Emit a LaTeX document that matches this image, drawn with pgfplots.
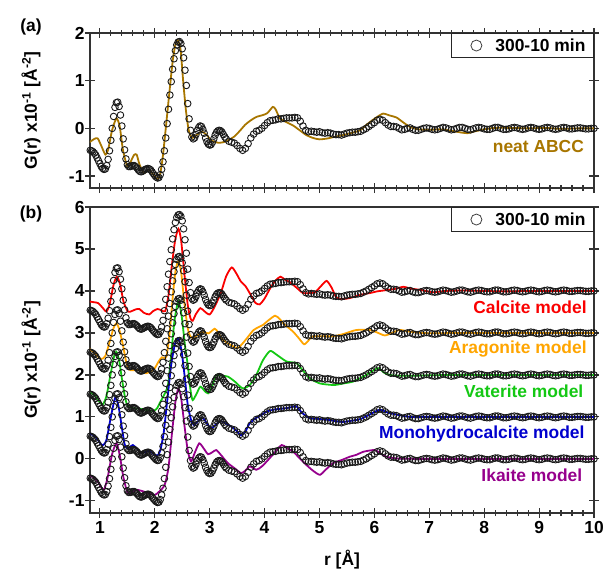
\documentclass[border=0pt]{standalone}
\usepackage{pgfplots}
\pgfplotsset{compat=1.18}
\usepackage{pgfplotstable}
\usepackage{fontspec}
\setmainfont{Liberation Sans}

\definecolor{abcc}{RGB}{168,118,0}
\definecolor{calc}{RGB}{250,0,0}
\definecolor{arag}{RGB}{255,165,0}
\definecolor{vate}{RGB}{20,200,20}
\definecolor{mono}{RGB}{0,0,205}
\definecolor{ikai}{RGB}{150,0,140}

\newcommand{\lbl}{\fontsize{17.5}{20}\selectfont\bfseries}

% measured G(r), 300-10 min
\pgfplotstableread[row sep=\\]{
x y\\
0.800 -0.45\\ 0.825 -0.46\\ 0.850 -0.47\\ 0.875 -0.49\\ 0.900 -0.52\\ 0.925 -0.56\\ 0.950 -0.62\\ 0.975 -0.68\\
1.000 -0.74\\ 1.025 -0.80\\ 1.050 -0.84\\ 1.075 -0.86\\ 1.100 -0.85\\ 1.125 -0.78\\ 1.150 -0.65\\ 1.175 -0.47\\
1.200 -0.25\\ 1.225 0.00\\ 1.250 0.25\\ 1.275 0.44\\ 1.300 0.54\\ 1.325 0.55\\ 1.350 0.46\\ 1.375 0.28\\
1.400 0.05\\ 1.425 -0.22\\ 1.450 -0.45\\ 1.475 -0.64\\ 1.500 -0.76\\ 1.525 -0.80\\ 1.550 -0.80\\ 1.575 -0.79\\
1.600 -0.78\\ 1.625 -0.78\\ 1.650 -0.80\\ 1.675 -0.83\\ 1.700 -0.87\\ 1.725 -0.90\\ 1.750 -0.91\\ 1.775 -0.90\\
1.800 -0.88\\ 1.825 -0.86\\ 1.850 -0.85\\ 1.875 -0.84\\ 1.900 -0.85\\ 1.925 -0.87\\ 1.950 -0.91\\ 1.975 -0.95\\
2.000 -0.99\\ 2.025 -1.02\\ 2.050 -1.04\\ 2.075 -1.03\\ 2.100 -0.97\\ 2.125 -0.86\\ 2.150 -0.70\\ 2.175 -0.47\\
2.200 -0.20\\ 2.225 0.10\\ 2.250 0.40\\ 2.275 0.70\\ 2.300 0.98\\ 2.325 1.24\\ 2.350 1.46\\ 2.375 1.63\\
2.400 1.75\\ 2.425 1.81\\ 2.450 1.82\\ 2.475 1.78\\ 2.500 1.67\\ 2.525 1.48\\ 2.550 1.22\\ 2.575 0.90\\
2.600 0.52\\ 2.625 0.20\\ 2.650 -0.04\\ 2.675 -0.18\\ 2.700 -0.22\\ 2.725 -0.20\\ 2.750 -0.13\\ 2.775 -0.04\\
2.800 0.02\\ 2.825 0.05\\ 2.850 0.04\\ 2.875 -0.02\\ 2.900 -0.10\\ 2.925 -0.20\\ 2.950 -0.28\\ 2.975 -0.33\\
3.000 -0.35\\ 3.025 -0.34\\ 3.050 -0.29\\ 3.075 -0.22\\ 3.100 -0.14\\ 3.125 -0.08\\ 3.150 -0.05\\ 3.175 -0.04\\
3.200 -0.05\\ 3.225 -0.08\\ 3.250 -0.13\\ 3.275 -0.18\\ 3.300 -0.22\\
3.35 -0.27\\ 3.40 -0.29\\ 3.45 -0.31\\ 3.50 -0.36\\ 3.55 -0.42\\
3.60 -0.46\\ 3.65 -0.42\\ 3.70 -0.32\\ 3.75 -0.20\\ 3.80 -0.12\\ 3.85 -0.06\\ 3.90 -0.04\\ 3.95 0.00\\
4.00 0.06\\ 4.05 0.12\\ 4.10 0.16\\ 4.15 0.17\\ 4.20 0.18\\ 4.25 0.20\\ 4.30 0.20\\ 4.35 0.21\\
4.40 0.22\\ 4.45 0.22\\ 4.50 0.22\\ 4.55 0.23\\ 4.60 0.22\\ 4.65 0.15\\ 4.70 0.05\\ 4.75 -0.04\\
4.80 -0.07\\ 4.85 -0.06\\ 4.90 -0.07\\ 4.95 -0.08\\ 5.00 -0.07\\ 5.05 -0.09\\ 5.10 -0.10\\ 5.15 -0.09\\
5.20 -0.10\\ 5.25 -0.12\\ 5.30 -0.13\\ 5.35 -0.13\\ 5.40 -0.14\\ 5.45 -0.12\\ 5.50 -0.10\\ 5.55 -0.09\\
5.60 -0.08\\ 5.65 -0.08\\ 5.70 -0.07\\ 5.75 -0.06\\ 5.80 -0.03\\ 5.85 0.00\\ 5.90 0.04\\ 5.95 0.08\\
6.00 0.12\\ 6.05 0.17\\ 6.10 0.19\\ 6.15 0.17\\ 6.20 0.12\\ 6.25 0.07\\ 6.30 0.04\\ 6.35 0.04\\
6.40 0.03\\ 6.45 0.00\\ 6.50 -0.03\\ 6.55 -0.02\\ 6.60 0.00\\ 6.65 0.01\\ 6.70 -0.02\\ 6.75 -0.04\\
6.80 -0.04\\ 6.85 -0.02\\ 6.90 0.00\\ 6.95 0.01\\ 7.00 0.00\\ 7.05 -0.02\\ 7.10 -0.03\\ 7.15 -0.02\\
7.20 0.00\\ 7.25 0.02\\ 7.30 0.01\\ 7.35 -0.01\\ 7.40 -0.03\\ 7.45 -0.02\\ 7.50 0.00\\ 7.55 0.02\\
7.60 0.02\\ 7.65 0.00\\ 7.70 -0.02\\ 7.75 -0.03\\ 7.80 -0.01\\ 7.85 0.01\\ 7.90 0.02\\ 7.95 0.01\\
8.00 -0.01\\ 8.05 -0.02\\ 8.10 -0.02\\ 8.15 0.00\\ 8.20 0.02\\ 8.25 0.02\\ 8.30 0.00\\ 8.35 -0.02\\
8.40 -0.02\\ 8.45 -0.01\\ 8.50 0.01\\ 8.55 0.02\\ 8.60 0.01\\ 8.65 -0.01\\ 8.70 -0.02\\ 8.75 -0.01\\
8.80 0.01\\ 8.85 0.02\\ 8.90 0.01\\ 8.95 -0.01\\ 9.00 -0.02\\ 9.05 -0.01\\ 9.10 0.01\\ 9.15 0.02\\
9.20 0.01\\ 9.25 -0.01\\ 9.30 -0.02\\ 9.35 -0.01\\ 9.40 0.01\\ 9.45 0.02\\ 9.50 0.01\\ 9.55 -0.01\\
9.60 -0.01\\ 9.65 0.00\\ 9.70 0.01\\ 9.75 0.01\\ 9.80 0.00\\ 9.85 -0.01\\ 9.90 -0.01\\ 9.95 0.00\\
10.00 0.00\\
}\expdata

% neat ABCC
\pgfplotstableread[row sep=\\]{
x y\\
0.80 -0.30\\ 0.90 -0.22\\ 0.96 -0.21\\ 1.02 -0.35\\ 1.10 -0.55\\ 1.15 -0.45\\ 1.22 -0.05\\ 1.30 0.21\\
1.36 0.05\\ 1.42 -0.45\\ 1.50 -0.80\\ 1.56 -0.70\\ 1.62 -0.56\\ 1.67 -0.55\\ 1.72 -0.75\\ 1.80 -0.94\\
1.85 -0.90\\ 1.90 -0.86\\ 1.96 -0.95\\ 2.05 -1.07\\ 2.10 -0.95\\ 2.15 -0.55\\ 2.20 0.00\\ 2.27 0.80\\
2.33 1.45\\ 2.38 1.78\\ 2.42 1.85\\ 2.47 1.65\\ 2.52 0.95\\ 2.57 0.35\\ 2.62 -0.05\\ 2.68 -0.20\\
2.75 -0.15\\ 2.85 -0.07\\ 2.93 -0.12\\ 3.03 -0.25\\ 3.15 -0.30\\ 3.25 -0.29\\ 3.35 -0.24\\ 3.45 -0.17\\
3.55 -0.05\\ 3.65 0.08\\ 3.75 0.17\\ 3.85 0.24\\ 3.97 0.28\\ 4.05 0.32\\ 4.15 0.45\\ 4.20 0.40\\
4.28 0.21\\ 4.40 0.13\\ 4.52 0.06\\ 4.64 -0.04\\ 4.76 -0.14\\ 4.88 -0.20\\ 5.00 -0.23\\ 5.15 -0.21\\
5.30 -0.17\\ 5.43 -0.14\\ 5.60 -0.09\\ 5.74 -0.04\\ 5.85 0.07\\ 5.95 0.16\\ 6.05 0.24\\ 6.16 0.31\\
6.28 0.27\\ 6.40 0.23\\ 6.52 0.13\\ 6.65 0.03\\ 6.80 -0.02\\ 7.00 -0.03\\ 7.20 -0.02\\ 7.40 -0.05\\
7.60 -0.09\\ 7.70 -0.10\\ 7.80 -0.07\\ 8.00 -0.02\\ 8.20 0.01\\ 8.50 0.01\\ 8.80 0.00\\ 9.10 0.01\\
9.40 -0.01\\ 9.70 0.00\\ 10.00 0.00\\
}\abccdata

% calcite model (offset +4)
\pgfplotstableread[row sep=\\]{
x y\\
0.80 3.75\\ 0.90 3.73\\ 0.97 3.71\\ 1.05 3.60\\ 1.12 3.51\\ 1.18 3.70\\ 1.25 4.15\\ 1.31 4.34\\
1.37 4.15\\ 1.43 3.75\\ 1.51 3.51\\ 1.58 3.52\\ 1.65 3.56\\ 1.72 3.57\\ 1.80 3.48\\ 1.90 3.44\\
1.97 3.52\\ 2.05 3.57\\ 2.12 3.54\\ 2.19 3.52\\ 2.25 3.90\\ 2.31 4.60\\ 2.37 5.20\\ 2.43 5.48\\
2.48 5.20\\ 2.54 4.40\\ 2.60 3.67\\ 2.65 3.35\\ 2.69 3.29\\ 2.75 3.45\\ 2.83 3.59\\ 2.90 3.52\\
3.00 3.44\\ 3.10 3.65\\ 3.21 3.98\\ 3.30 4.35\\ 3.40 4.56\\ 3.48 4.43\\ 3.57 4.22\\ 3.65 4.12\\
3.75 3.90\\ 3.83 3.72\\ 3.91 3.68\\ 4.00 3.82\\ 4.10 4.06\\ 4.20 4.25\\ 4.29 4.34\\ 4.37 4.27\\
4.46 4.21\\ 4.58 4.08\\ 4.70 3.95\\ 4.82 3.95\\ 4.92 3.97\\ 5.03 4.12\\ 5.13 4.24\\ 5.22 4.08\\
5.31 3.84\\ 5.43 3.81\\ 5.55 3.83\\ 5.70 3.89\\ 5.82 3.93\\ 5.92 3.95\\ 6.05 3.99\\ 6.22 4.02\\
6.38 4.05\\ 6.53 4.10\\ 6.65 4.06\\ 6.86 4.02\\ 7.07 3.97\\ 7.30 4.00\\ 7.60 4.01\\ 8.00 4.00\\
8.40 3.99\\ 8.80 4.00\\ 9.20 4.00\\ 9.60 4.00\\ 10.00 4.00\\
}\calcdata

% aragonite model (offset +3)
\pgfplotstableread[row sep=\\]{
x y\\
0.80 2.64\\ 0.90 2.52\\ 1.02 2.38\\ 1.10 2.45\\ 1.18 2.80\\ 1.25 3.12\\ 1.30 3.23\\ 1.35 3.10\\
1.42 2.71\\ 1.48 2.30\\ 1.53 2.13\\ 1.60 2.11\\ 1.70 2.12\\ 1.78 2.07\\ 1.84 2.04\\ 1.92 2.08\\
2.00 2.16\\ 2.07 2.32\\ 2.13 2.42\\ 2.21 2.43\\ 2.27 3.00\\ 2.33 3.90\\ 2.38 4.50\\ 2.43 4.71\\
2.48 4.45\\ 2.54 3.70\\ 2.60 3.11\\ 2.65 2.92\\ 2.71 2.87\\ 2.79 2.97\\ 2.88 3.02\\ 2.98 2.99\\
3.09 3.10\\ 3.15 3.02\\ 3.21 2.87\\ 3.30 2.78\\ 3.40 2.70\\ 3.51 2.64\\ 3.60 2.75\\ 3.70 2.91\\
3.80 3.07\\ 3.91 3.15\\ 3.97 3.19\\ 4.07 3.30\\ 4.19 3.41\\ 4.27 3.34\\ 4.34 3.23\\ 4.43 3.13\\
4.52 3.03\\ 4.62 2.88\\ 4.72 2.73\\ 4.80 2.82\\ 4.86 2.91\\ 5.00 2.92\\ 5.25 2.92\\ 5.45 2.98\\
5.67 3.07\\ 5.92 3.07\\ 6.05 3.01\\ 6.19 2.94\\ 6.32 3.00\\ 6.46 3.07\\ 6.65 3.03\\ 6.86 3.00\\
7.10 2.99\\ 7.50 3.00\\ 8.00 3.00\\ 8.50 3.00\\ 9.00 3.00\\ 9.50 3.00\\ 10.00 3.00\\
}\aragdata

% vaterite model (offset +2)
\pgfplotstableread[row sep=\\]{
x y\\
0.80 1.59\\ 0.90 1.52\\ 0.98 1.38\\ 1.05 1.29\\ 1.12 1.50\\ 1.20 2.05\\ 1.26 2.45\\ 1.30 2.55\\
1.35 2.35\\ 1.40 1.92\\ 1.46 1.45\\ 1.51 1.25\\ 1.60 1.21\\ 1.75 1.19\\ 1.87 1.16\\ 1.97 1.14\\
2.04 1.20\\ 2.09 1.33\\ 2.16 1.50\\ 2.24 1.76\\ 2.30 2.50\\ 2.36 3.30\\ 2.43 3.76\\ 2.49 3.40\\
2.55 2.70\\ 2.60 2.24\\ 2.65 1.65\\ 2.69 1.40\\ 2.76 1.55\\ 2.83 1.72\\ 2.90 1.63\\ 2.97 1.56\\
3.05 1.75\\ 3.12 2.00\\ 3.22 1.98\\ 3.33 1.96\\ 3.45 1.85\\ 3.60 1.68\\ 3.73 1.76\\ 3.85 2.00\\
3.97 2.35\\ 4.10 2.57\\ 4.22 2.48\\ 4.40 2.32\\ 4.58 2.28\\ 4.70 2.10\\ 4.82 1.92\\ 5.00 1.80\\
5.15 1.77\\ 5.28 1.76\\ 5.45 1.80\\ 5.61 1.84\\ 5.80 1.96\\ 5.95 2.08\\ 6.07 2.16\\ 6.18 2.05\\
6.28 2.00\\ 6.45 1.98\\ 6.70 1.98\\ 7.00 1.99\\ 7.50 2.00\\ 8.00 2.00\\ 8.50 2.00\\ 9.00 2.00\\
9.50 2.00\\ 10.00 2.00\\
}\vatedata

% monohydrocalcite model (offset +1)
\pgfplotstableread[row sep=\\]{
x y\\
0.80 0.61\\ 0.90 0.55\\ 0.98 0.42\\ 1.05 0.32\\ 1.12 0.45\\ 1.20 1.00\\ 1.28 1.46\\ 1.34 1.25\\
1.40 0.75\\ 1.45 0.35\\ 1.50 0.25\\ 1.55 0.28\\ 1.60 0.33\\ 1.67 0.25\\ 1.75 0.14\\ 1.82 0.16\\
1.90 0.19\\ 1.97 0.12\\ 2.05 0.08\\ 2.10 0.20\\ 2.16 0.60\\ 2.22 1.30\\ 2.30 2.25\\ 2.37 2.75\\
2.43 2.87\\ 2.49 2.55\\ 2.55 1.90\\ 2.60 1.29\\ 2.66 0.93\\ 2.71 0.81\\ 2.79 0.90\\ 2.88 0.97\\
2.96 0.82\\ 3.03 0.73\\ 3.10 0.80\\ 3.20 0.90\\ 3.30 0.84\\ 3.39 0.77\\ 3.48 0.68\\ 3.57 0.56\\
3.65 0.65\\ 3.73 0.85\\ 3.85 0.98\\ 3.95 1.05\\ 4.04 1.13\\ 4.20 1.18\\ 4.35 1.20\\ 4.45 1.22\\
4.58 1.25\\ 4.68 1.10\\ 4.82 0.97\\ 5.00 0.95\\ 5.20 0.92\\ 5.40 0.88\\ 5.55 0.90\\ 5.75 0.95\\
5.95 1.08\\ 6.10 1.17\\ 6.25 1.10\\ 6.46 1.04\\ 6.65 1.00\\ 6.90 1.00\\ 7.20 1.00\\ 7.60 1.00\\
8.00 1.00\\ 8.50 1.00\\ 9.00 1.00\\ 9.50 1.00\\ 10.00 1.00\\
}\monodata

% ikaite model
\pgfplotstableread[row sep=\\]{
x y\\
0.80 -0.40\\ 0.90 -0.45\\ 0.98 -0.58\\ 1.07 -0.74\\ 1.14 -0.45\\ 1.22 0.10\\ 1.30 0.37\\ 1.36 0.10\\
1.43 -0.45\\ 1.51 -0.82\\ 1.60 -0.78\\ 1.69 -0.74\\ 1.80 -0.78\\ 1.90 -0.82\\ 2.00 -0.86\\ 2.08 -0.78\\
2.18 -0.62\\ 2.25 -0.20\\ 2.32 0.70\\ 2.38 1.40\\ 2.43 1.67\\ 2.48 1.45\\ 2.54 0.80\\ 2.60 0.20\\
2.66 -0.06\\ 2.73 0.15\\ 2.81 0.37\\ 2.89 0.25\\ 2.97 0.11\\ 3.05 0.16\\ 3.12 0.21\\ 3.20 0.10\\
3.33 -0.10\\ 3.45 -0.22\\ 3.57 -0.34\\ 3.65 -0.28\\ 3.73 -0.18\\ 3.85 -0.26\\ 3.95 -0.18\\ 4.04 -0.06\\
4.15 0.10\\ 4.31 0.33\\ 4.40 0.26\\ 4.52 0.17\\ 4.65 0.00\\ 4.79 -0.18\\ 4.90 -0.30\\ 5.01 -0.38\\
5.12 -0.25\\ 5.25 -0.10\\ 5.40 -0.03\\ 5.55 0.05\\ 5.68 0.10\\ 5.80 0.17\\ 6.01 0.21\\ 6.12 0.12\\
6.22 0.05\\ 6.40 0.01\\ 6.70 0.00\\ 7.00 0.00\\ 7.50 0.00\\ 8.00 0.00\\ 8.50 0.00\\ 9.00 0.00\\
9.50 0.00\\ 10.00 0.00\\
}\ikaidata

\pgfplotsset{
  pdfpanel/.style={
    scale only axis, width=504bp,
    xmin=0.82, xmax=10,
    xtick={1,...,10}, minor x tick num=4,
    tick align=center,
    major tick length=10bp, minor tick length=6bp,
    axis line style={line width=1.3pt, black!80},
    every tick/.style={line width=1.2pt, black!80},
    /pgf/number format/assume math mode=true,
    tick label style={font=\lbl},
    yticklabel style={xshift=3bp},
    label style={font=\lbl},
    yticklabel pos=left,
    ylabel={G(r) x10\textsuperscript{-1} [Å\textsuperscript{-2}]},
    every axis y label/.style={at={(rel axis cs:0,0.5)}, anchor=center, xshift=-59bp, rotate=90},
    legend style={at={(rel axis cs:1,1)}, anchor=north east, draw=black!85, line width=1pt,
      fill=white, font=\lbl, inner xsep=6bp, inner ysep=3bp},
  },
  expmark/.style={only marks, mark=o, mark size=3.3bp, black!90,
    mark options={line width=0.9pt}, forget plot},
  model/.style={line width=1.8pt, smooth, tension=0.4, forget plot},
  explegend/.style={legend image code/.code={
    \path[draw=none] (0bp,0bp) -- (36bp,0bp);
    \draw[black!75, line width=0.8pt] (19bp,0bp) circle (5.5bp);}},
}

\begin{document}
\begin{tikzpicture}[font=\lbl]
\useasboundingbox (-90bp,33bp) rectangle (516bp,-537bp);
\begin{axis}[pdfpanel, at={(0,0)}, anchor=north west,
  height=155bp, ymin=-1.25, ymax=2, ytick={-1,0,1,2},
  xtick pos=both, ytick pos=both, xticklabels={}]
  \addplot[expmark] table[x=x, y=y] {\expdata};
  \addplot[model, abcc] table[x=x, y=y] {\abccdata};
  \addlegendimage{explegend}
  \addlegendentry{300-10 min}
  \node[anchor=east, text=abcc] at (9.88,-0.37) {neat ABCC};
\end{axis}
\node at (-59bp,6bp) {(a)};

\begin{axis}[pdfpanel, at={(0,-174bp)}, anchor=north west,
  height=306bp, ymin=-1.29, ymax=6, ytick={-1,...,6},
  xtick pos=bottom, ytick pos=both,
  xlabel={r [Å]}, xlabel style={yshift=-9bp}]
  \addplot[expmark] table[x=x, y expr=\thisrow{y}+4] {\expdata};
  \addplot[expmark] table[x=x, y expr=\thisrow{y}+3] {\expdata};
  \addplot[expmark] table[x=x, y expr=\thisrow{y}+2] {\expdata};
  \addplot[expmark] table[x=x, y expr=\thisrow{y}+1] {\expdata};
  \addplot[expmark] table[x=x, y=y] {\expdata};
  \addplot[model, calc] table[x=x, y=y] {\calcdata};
  \addplot[model, arag] table[x=x, y=y] {\aragdata};
  \addplot[model, vate] table[x=x, y=y] {\vatedata};
  \addplot[model, mono] table[x=x, y=y] {\monodata};
  \addplot[model, ikai] table[x=x, y=y] {\ikaidata};
  \addlegendimage{explegend}
  \addlegendentry{300-10 min}
  \node[anchor=east, text=calc] at (9.93,3.61) {Calcite model};
  \node[anchor=east, text=arag] at (9.93,2.62) {Aragonite model};
  \node[anchor=east, text=vate] at (9.87,1.61) {Vaterite model};
  \node[anchor=east, text=mono] at (9.89,0.60) {Monohydrocalcite model};
  \node[anchor=east, text=ikai] at (9.85,-0.40) {Ikaite model};
\end{axis}
\node at (-59bp,-181bp) {(b)};
\end{tikzpicture}
\end{document}
